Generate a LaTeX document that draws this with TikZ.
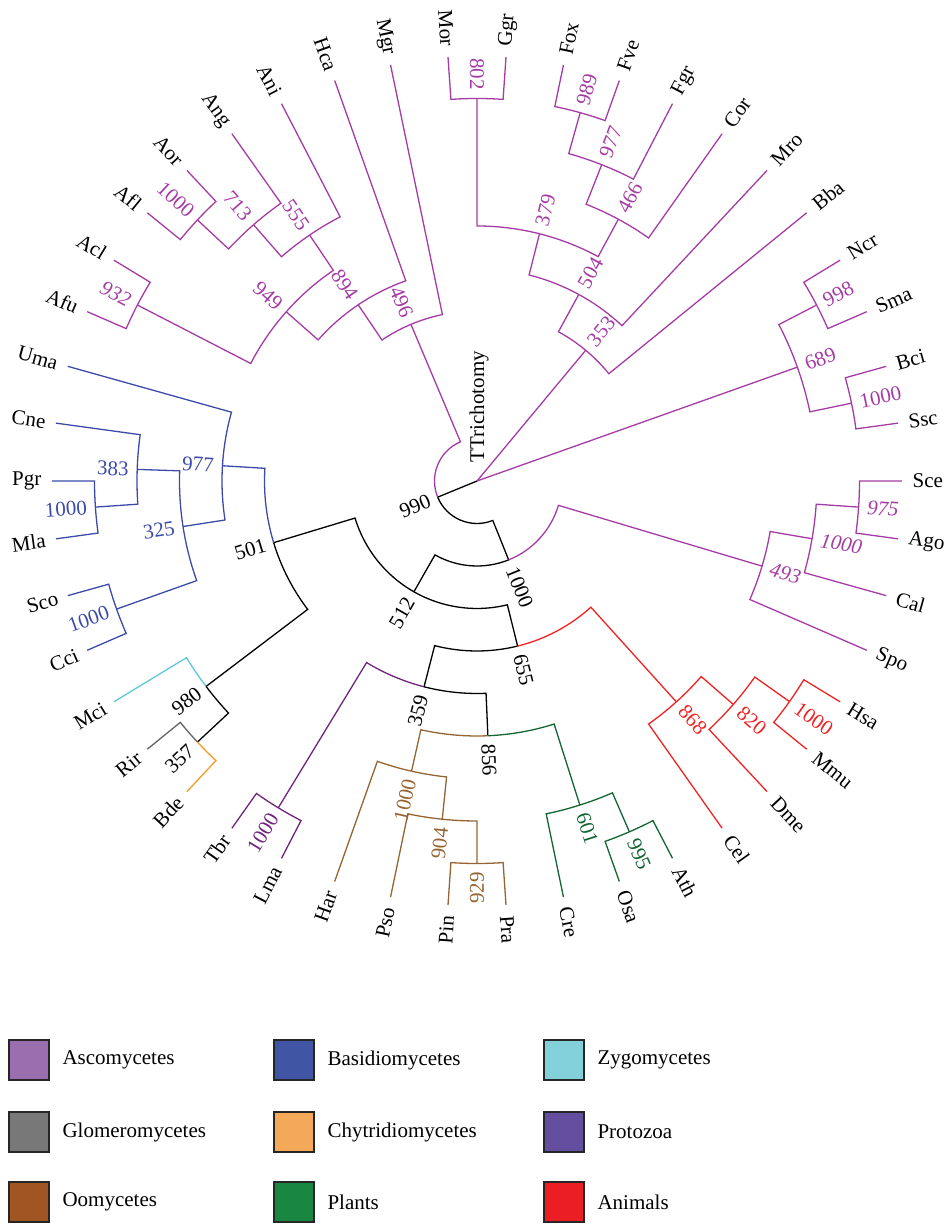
\documentclass[tikz,border=0pt]{standalone}
\usepackage{fontspec}
\setmainfont{Liberation Serif}
\usepackage{tikz}
\usetikzlibrary{positioning,calc}
% branch colours
\definecolor{asco}{RGB}{165,60,165}
\definecolor{basid}{RGB}{60,75,170}
\definecolor{zygo}{RGB}{95,200,215}
\definecolor{glom}{RGB}{100,100,100}
\definecolor{chyt}{RGB}{245,155,40}
\definecolor{proto}{RGB}{110,35,125}
\definecolor{oomy}{RGB}{150,100,50}
\definecolor{plant}{RGB}{20,100,50}
\definecolor{anim}{RGB}{240,35,35}
% legend colours
\definecolor{lAsco}{RGB}{155,110,175}
\definecolor{lBasid}{RGB}{65,85,165}
\definecolor{lZygo}{RGB}{130,208,218}
\definecolor{lGlom}{RGB}{120,120,120}
\definecolor{lChyt}{RGB}{244,168,90}
\definecolor{lProto}{RGB}{100,78,160}
\definecolor{lOomy}{RGB}{160,85,35}
\definecolor{lPlant}{RGB}{25,135,65}
\definecolor{lAnim}{RGB}{235,30,35}

\begin{document}
\begin{tikzpicture}[
    x=0.5pt, y=0.5pt,
    font=\fontsize{10.5}{12.5}\selectfont,
    line width=0.65pt,
    taxon/.style={inner sep=5pt},
    boot/.style={inner sep=4pt},
    elbow/.style={to path={let \p1=(\tikztostart), \p2=(\tikztotarget),
      \n1={atan2(\y1,\x1)}, \n2={atan2(\y2,\x2)}, \n3={veclen(\x1,\y1)},
      \n4={mod(\n2-\n1+540,360)-180} in
      arc[start angle=\n1, delta angle=\n4, radius=\n3] -- (\tikztotarget)}},
    legbox/.style={draw=black!85, line width=0.9pt, minimum width=20pt,
      minimum height=20pt, inner sep=0pt},
    legtext/.style={inner sep=0pt}
  ]
    \useasboundingbox (-477,-743) rectangle (467,481);
    \coordinate (root) at (0,0);

    % leaves, all on the outer circle
    \foreach \nm [count=\k from 0] in {Mor,Ggr,Fox,Fve,Fgr,Cor,Mro,Bba,Ncr,Sma,Bci,Ssc,
        Sce,Ago,Cal,Spo,Hsa,Mmu,Dme,Cel,Ath,Osa,Cre,Pra,Pin,Pso,Har,Lma,Tbr,Bde,Rir,
        Mci,Cci,Sco,Mla,Pgr,Cne,Uma,Afu,Acl,Afl,Aor,Ang,Ani,Hca,Mgr}{
      \pgfmathsetmacro\ang{(12-\k)*360/46}
      \coordinate (\nm) at (\ang:425);
      \pgfmathtruncatemacro\isleft{cos(\ang)<-0.01}
      \ifnum\isleft=1
        \node[taxon, anchor=east, rotate=\ang+180] (\nm-lab) at (\nm) {\nm};
      \else
        \node[taxon, anchor=west, rotate=\ang] (\nm-lab) at (\nm) {\nm};
      \fi
    }

    % inner nodes: name/angle/level/support/colour
    \foreach \nd/\ang/\lv/\val/\col in {
        n990/-157.637/1/990/black, n1000a/-68.141/2/1000/black,
        n512/-119.653/3/512/black, n501/-163.125/5/501/black,
        n655/-76.182/4/655/black, n359/-104.429/5/359/black,
        n856/-87.554/6/856/black, n980/-142.826/8/980/black,
        n357/-136.957/9/357/black,
        n977b/176.576/6/977/basid, n325/188.804/7/325/basid,
        n383/178.043/8/383/basid, n1000pm/-176.087/9/1000/basid,
        n1000scc/-160.435/9/1000/basid,
        n1000tl/-121.304/9/1000/proto,
        n1000oo/-102.717/7/1000/oomy, n904/-95.870/8/904/oomy, n929/-90/9/929/oomy,
        n601/-72.391/8/601/plant, n995/-66.522/9/995/plant,
        n868/-47.935/7/868/anim, n820/-41.087/8/820/anim, n1000hm/-35.217/9/1000/anim,
        n493/-16.630/7/\textit{493}/asco, n1000sc/-9.783/8/\textit{1000}/asco,
        n975/-3.913/9/\textit{975}/asco,
        n689/19.565/8/689/asco, n998/27.391/9/998/asco, n1000bs/11.739/9/1000/asco,
        n353/50.258/4/353/asco, n504/61.386/5/504/asco, n379/75.815/6/379/asco,
        n802/90/9/802/asco, n466/61.630/7/466/asco, n977f/68.478/8/977/asco,
        n989/74.348/9/989/asco,
        n496/112.867/4/496/asco, n894/123.995/5/894/asco, n949/138.424/6/949/asco,
        n932/152.609/9/\textit{932}/asco, n555/124.239/7/555/asco,
        n713/131.087/8/713/asco, n1000e/136.957/9/1000/asco}{
      \coordinate (\nd) at (\ang:{42.5*\lv});
      \pgfmathtruncatemacro\isleft{cos(\ang)<0.01}
      \ifnum\isleft=1
        \node[boot, text=\col, anchor=east, rotate=\ang+180] (\nd-bs) at (\nd) {\val};
      \else
        \node[boot, text=\col, anchor=west, rotate=\ang] (\nd-bs) at (\nd) {\val};
      \fi
    }

    % trichotomy at the root
    \draw (root) -- (n990);
    \draw[asco] (root) -- (n353);
    \draw[asco] (root) -- (n689);
    \node[rotate=90, anchor=west, inner sep=0pt] (trich) at ([shift={(2,18)}]root) {TTrichotomy};

    % backbone
    \draw (n990) to[elbow] (n1000a);
    \draw[asco] (n990) to[elbow] (n496);
    \draw (n1000a) to[elbow] (n512);
    \draw[asco] (n1000a) to[elbow] (n493);
    \draw (n512) to[elbow] (n501);
    \draw (n512) to[elbow] (n655);
    \draw[basid] (n501) to[elbow] (n977b);
    \draw (n501) to[elbow] (n980);
    \draw[zygo] (n980) to[elbow] (Mci);
    \draw (n980) to[elbow] (n357);
    \draw[glom] (n357) to[elbow] (Rir);
    \draw[chyt] (n357) to[elbow] (Bde);
    \draw (n655) to[elbow] (n359);
    \draw[anim] (n655) to[elbow] (n868);
    \draw[proto] (n359) to[elbow] (n1000tl);
    \draw (n359) to[elbow] (n856);
    \draw[oomy] (n856) to[elbow] (n1000oo);
    \draw[plant] (n856) to[elbow] (n601);

    % clades
    \foreach \a/\b in {n977b/Uma, n977b/n325, n325/n383, n325/n1000scc, n383/Cne,
        n383/n1000pm, n1000pm/Pgr, n1000pm/Mla, n1000scc/Sco, n1000scc/Cci}
      \draw[basid] (\a) to[elbow] (\b);
    \foreach \a/\b in {n1000tl/Tbr, n1000tl/Lma}
      \draw[proto] (\a) to[elbow] (\b);
    \foreach \a/\b in {n1000oo/Har, n1000oo/n904, n904/Pso, n904/n929, n929/Pin, n929/Pra}
      \draw[oomy] (\a) to[elbow] (\b);
    \foreach \a/\b in {n601/Cre, n601/n995, n995/Osa, n995/Ath}
      \draw[plant] (\a) to[elbow] (\b);
    \foreach \a/\b in {n868/Cel, n868/n820, n820/Dme, n820/n1000hm, n1000hm/Hsa, n1000hm/Mmu}
      \draw[anim] (\a) to[elbow] (\b);
    \foreach \a/\b in {n493/n1000sc, n493/Spo, n1000sc/n975, n1000sc/Cal, n975/Sce, n975/Ago,
        n689/n998, n689/n1000bs, n998/Ncr, n998/Sma, n1000bs/Bci, n1000bs/Ssc,
        n353/n504, n353/Bba, n504/n379, n504/Mro, n379/n802, n379/n466, n802/Mor, n802/Ggr,
        n466/n977f, n466/Cor, n977f/n989, n977f/Fgr, n989/Fox, n989/Fve,
        n496/n894, n496/Mgr, n894/n949, n894/Hca, n949/n932, n949/n555, n932/Afu, n932/Acl,
        n555/n713, n555/Ani, n713/n1000e, n713/Ang, n1000e/Afl, n1000e/Aor}
      \draw[asco] (\a) to[elbow] (\b);

    % legend
    \node[legbox, fill=lAsco] (lg-asco) at (-448,-579) {};
    \node[legtext, right=6pt of lg-asco] (lt-asco) {Ascomycetes};
    \node[legbox, fill=lBasid] (lg-basid) at (-183,-579) {};
    \node[legtext, right=6pt of lg-basid] (lt-basid) {Basidiomycetes};
    \node[legbox, fill=lZygo] (lg-zygo) at (87,-579) {};
    \node[legtext, right=6pt of lg-zygo] (lt-zygo) {Zygomycetes};
    \node[legbox, fill=lGlom] (lg-glom) at (-448,-651) {};
    \node[legtext, right=6pt of lg-glom] (lt-glom) {Glomeromycetes};
    \node[legbox, fill=lChyt] (lg-chyt) at (-183,-651) {};
    \node[legtext, right=6pt of lg-chyt] (lt-chyt) {Chytridiomycetes};
    \node[legbox, fill=lProto] (lg-proto) at (87,-651) {};
    \node[legtext, right=6pt of lg-proto] (lt-proto) {Protozoa};
    \node[legbox, fill=lOomy] (lg-oomy) at (-448,-721) {};
    \node[legtext, right=6pt of lg-oomy] (lt-oomy) {Oomycetes};
    \node[legbox, fill=lPlant] (lg-plant) at (-183,-721) {};
    \node[legtext, right=6pt of lg-plant] (lt-plant) {Plants};
    \node[legbox, fill=lAnim] (lg-anim) at (87,-721) {};
    \node[legtext, right=6pt of lg-anim] (lt-anim) {Animals};
  \end{tikzpicture}
\end{document}
